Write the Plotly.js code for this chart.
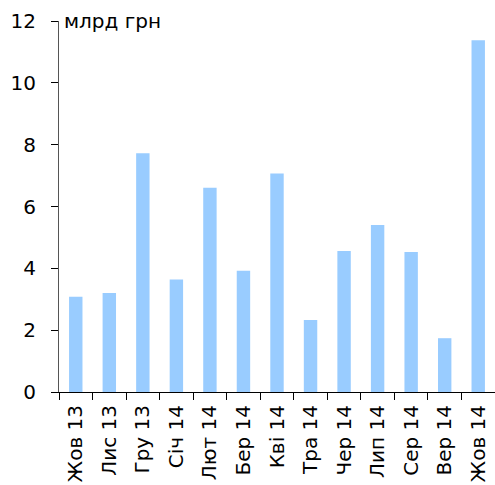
<!DOCTYPE html>
<html><head><meta charset="utf-8">
<script src="https://cdn.plot.ly/plotly-3.0.1.min.js"></script>
<style>html,body{margin:0;padding:0;background:#fff}</style>
</head><body>
<div id="chart" style="width:495px;height:485px"></div>
<script>
const categories = ["Жов 13","Лис 13","Гру 13","Січ 14","Лют 14","Бер 14","Кві 14","Тра 14","Чер 14","Лип 14","Сер 14","Вер 14","Жов 14"];
const values = [3.08, 3.20, 7.72, 3.64, 6.61, 3.92, 7.07, 2.33, 4.56, 5.40, 4.53, 1.74, 11.38];
const yTicks = [0, 2, 4, 6, 8, 10, 12];
const unitLabel = "млрд грн";

const font = "DejaVu Sans, Verdana, sans-serif";
Plotly.newPlot("chart", [{
  type: "bar",
  x: categories,
  y: values,
  marker: {color: "#99CCFF", line: {width: 0}},
  hoverinfo: "skip"
}], {
  width: 495, height: 485,
  margin: {l: 59, r: 0, t: 21, b: 93},
  paper_bgcolor: "#fff", plot_bgcolor: "#fff",
  bargap: 0.6,
  showlegend: false,
  font: {family: font, size: 20, color: "#000"},
  xaxis: {
    type: "category",
    tickangle: -90,
    ticks: "outside", ticklen: 7, tickcolor: "#000",
    tickson: "boundaries",
    ticklabelstandoff: 4,
    showline: true, linecolor: "#000", linewidth: 1,
    showgrid: false, zeroline: false,
    tickfont: {family: font, size: 20, color: "#000"}
  },
  yaxis: {
    range: [0, 12],
    tickvals: yTicks,
    ticks: "outside", ticklen: 7, tickcolor: "#000",
    ticklabelstandoff: 11,
    showline: true, linecolor: "#555", linewidth: 1,
    showgrid: false, zeroline: false,
    tickfont: {family: font, size: 20, color: "#000"}
  },
  annotations: [{
    text: unitLabel, xref: "paper", yref: "paper",
    x: 0, y: 1, xanchor: "left", yanchor: "middle",
    xshift: 3, showarrow: false,
    font: {family: font, size: 20, color: "#000"}
  }]
}, {displayModeBar: false, staticPlot: true});
</script>
</body></html>
